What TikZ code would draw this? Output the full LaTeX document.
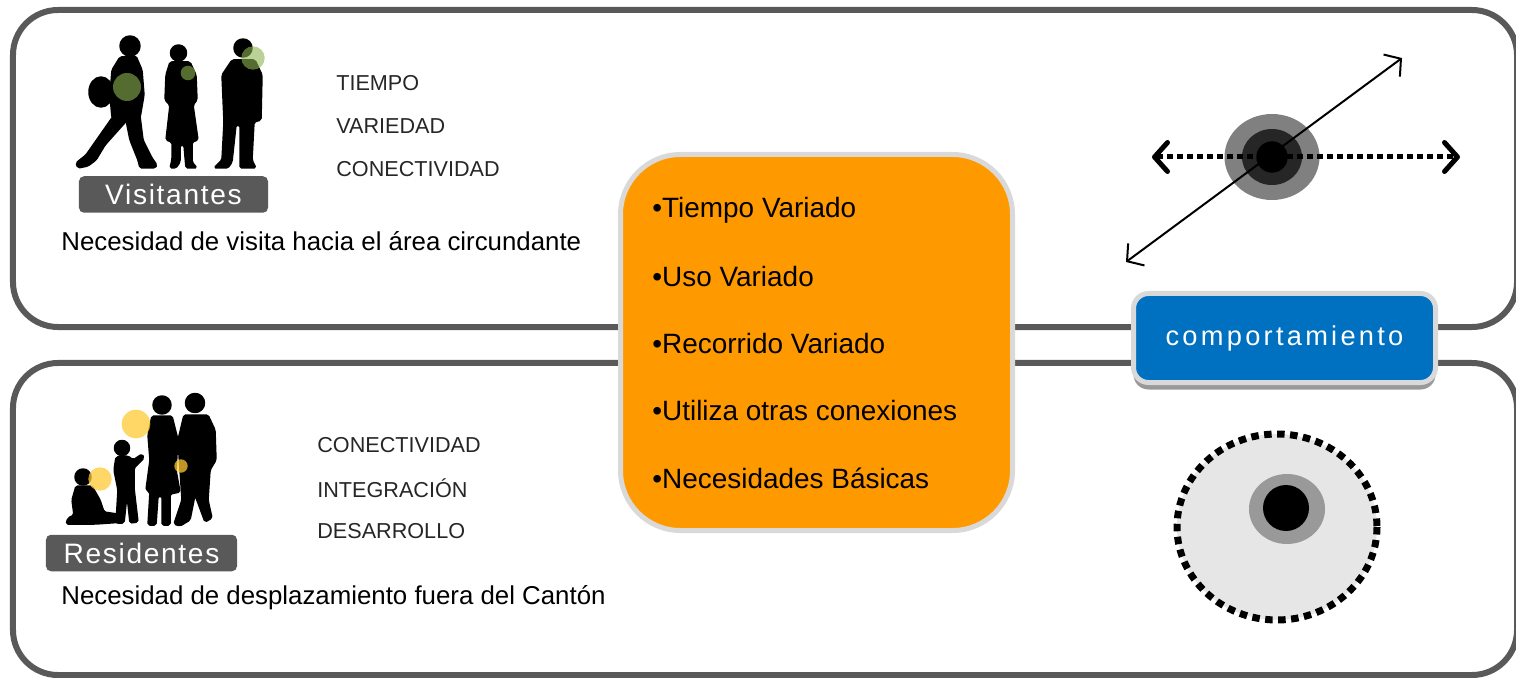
\documentclass[tikz,border=0pt]{standalone}
\usepackage{fontspec}
\setmainfont{Liberation Sans}
\usepackage{tikz}
\usetikzlibrary{arrows.meta,positioning,shadows}
\definecolor{cpFrame}{HTML}{595959}
\definecolor{cpOrange}{HTML}{FF9900}
\definecolor{cpRim}{HTML}{D9D9D9}
\definecolor{cpBlue}{HTML}{0070C0}
\definecolor{cpLeaf}{HTML}{8DB450}
\definecolor{cpSun}{HTML}{FFC934}
\definecolor{cpHalo}{HTML}{808080}
\definecolor{cpCore}{HTML}{262626}
\definecolor{cpMist}{HTML}{E6E6E6}
\definecolor{cpRing}{HTML}{999999}
\tikzset{
  panel/.style={rectangle, draw=cpFrame, line width=1.2mm, rounded corners=9mm,
                minimum width=300.8mm, inner sep=0pt},
  tag/.style={rectangle, fill=cpFrame, rounded corners=1mm, text=white, inner sep=0pt,
              minimum height=7.3mm, font=\fontsize{16}{18}\selectfont\addfontfeatures{LetterSpace=6}},
  need/.style={anchor=west, inner sep=0pt, font=\fontsize{14.7}{17}\selectfont},
  kw/.style={anchor=west, inner sep=0pt, text=black!85, font=\fontsize{12.3}{14}\selectfont},
  entry/.style={anchor=west, inner sep=0pt, font=\fontsize{15.9}{18}\selectfont},
  hub/.style={rectangle, draw=cpRim, fill=cpOrange, line width=1mm, rounded corners=12mm,
              minimum width=78.4mm, minimum height=75.2mm},
  badge/.style={rectangle, draw=cpRim, fill=cpBlue, line width=1mm, rounded corners=3mm,
                minimum width=60.4mm, minimum height=17.8mm, text=white,
                font=\fontsize{15.5}{17}\selectfont\addfontfeatures{LetterSpace=12},
                drop shadow={shadow xshift=0mm, shadow yshift=-1.4mm, opacity=0.4, fill=black}},
  person/.style={fill=black, draw=black, line width=0.3mm, line join=round, rounded corners=1pt},
  leafdot/.style={fill=cpLeaf, opacity=0.6},
  sundot/.style={fill=cpSun, opacity=0.75},
  track/.style={line width=1mm, dash pattern=on 1.1mm off 0.9mm,
                {Straight Barb[length=2.6mm, width=5.8mm, round]}-{Straight Barb[length=2.6mm, width=5.8mm, round]}},
  ray/.style={line width=0.4mm,
              {Straight Barb[length=2.3mm, width=5.5mm]}-{Straight Barb[length=2.3mm, width=5.5mm]}},
}
\begin{document}
\begin{tikzpicture}[x=0.2mm, y=-0.2mm]
  \clip (0,0) rectangle (1516,678);

  \node[panel, minimum height=63.4mm] (visit) at (765,168.5) {};
  \node[panel, minimum height=62.4mm] (resid) at (765,519) {};

  \node[hub] (hub) at (816.5,342.5) {};
  \node[entry] (e1) at (652,210) {•Tiempo Variado};
  \node[entry, below=13.4mm of e1.west, anchor=west] (e2) {•Uso Variado};
  \node[entry, below=13.4mm of e2.west, anchor=west] (e3) {•Recorrido Variado};
  \node[entry, below=13.4mm of e3.west, anchor=west] (e4) {•Utiliza otras conexiones};
  \node[entry, below=13.4mm of e4.west, anchor=west] (e5) {•Necesidades Básicas};

  \node[badge] (badge) at (1284.5,338) {comportamiento};

  % visitors
  \fill[person] (130,46) circle (10);
  \fill[person] (101,92) ellipse (12 and 15);
  \fill[person] (120,57) -- (136,56) -- (142,70) -- (144,95) -- (140,118) -- (112,118) -- (110,95) -- (112,70) -- cycle;
  \fill[person] (114,115) -- (130,117) -- (105,145) -- (96,160) -- (88,166) -- (78,168) -- (76,163) -- (86,155) -- (100,135) -- cycle;
  \fill[person] (125,115) -- (140,116) -- (143,140) -- (152,158) -- (157,165) -- (155,168) -- (140,168) -- (138,160) -- (130,140) -- cycle;
  \fill[person] (178.5,53) circle (8);
  \fill[person] (170,62) -- (190,62) -- (196,75) -- (197,100) -- (193,105) -- (198,140) -- (192,142) -- (192,162) -- (197,168)
    -- (186,168) -- (184,145) -- (180,145) -- (180,162) -- (176,168) -- (170,168) -- (172,160) -- (172,142) -- (166,140)
    -- (170,105) -- (165,100) -- (166,75) -- cycle;
  \fill[person] (243,48) circle (9);
  \fill[person] (232,60) -- (255,60) -- (262,75) -- (261,120) -- (254,122) -- (252,160) -- (256,168) -- (240,168) -- (240,125)
    -- (236,125) -- (232,162) -- (228,168) -- (214,168) -- (222,160) -- (224,122) -- (222,75) -- cycle;
  \fill[leafdot] (127,87) circle (14);
  \fill[leafdot] (188,73) circle (7.3);
  \fill[leafdot] (253,58) circle (11.7);

  % residents
  \fill[person] (83,477) circle (8);
  \fill[person] (76,486) -- (92,486) -- (100,500) -- (104,512) -- (124,515) -- (124,522) -- (96,524) -- (66,524) -- (68,518)
    -- (74,515) -- (72,500) -- cycle;
  \fill[person] (122,448) circle (7.5);
  \fill[person] (116,457) -- (128,456) -- (133,460) -- (142,454) -- (144,458) -- (134,468) -- (134,488) -- (138,522) -- (130,523)
    -- (127,495) -- (124,523) -- (116,523) -- (118,490) -- (114,470) -- cycle;
  \fill[person] (162,405) circle (9);
  \fill[person] (152,416) -- (172,416) -- (178,440) -- (176,470) -- (180,492) -- (170,494) -- (170,525) -- (162,525) -- (162,496)
    -- (158,496) -- (156,525) -- (148,525) -- (150,492) -- (146,490) -- (150,460) -- (148,435) -- cycle;
  \fill[person] (195,403) circle (9.5);
  \fill[person] (184,415) -- (208,415) -- (215,430) -- (216,460) -- (210,470) -- (208,500) -- (212,518) -- (205,522) -- (195,495)
    -- (190,520) -- (180,526) -- (174,524) -- (182,500) -- (180,470) -- (178,440) -- cycle;
  \fill[sundot] (136,424) circle (14.3);
  \fill[sundot] (100,479) circle (11.7);
  \fill[sundot] (181,466) circle (6.7);

  \node[tag, minimum width=37.8mm] (vtag) at (173.5,194.5) {Visitantes};
  \node[tag, minimum width=38.2mm] (rtag) at (141.5,553) {Residentes};
  \node[need] (vneed) at (61,241) {Necesidad de visita hacia el área circundante};
  \node[need] (rneed) at (61,598) {Necesidad de desplazamiento fuera del Cantón};

  \node[kw] (k1) at (336,83) {TIEMPO};
  \node[kw, below=8.6mm of k1.west, anchor=west] (k2) {VARIEDAD};
  \node[kw, below=8.6mm of k2.west, anchor=west] (k3) {CONECTIVIDAD};
  \node[kw] (k4) at (317,445) {CONECTIVIDAD};
  \node[kw, below=8.6mm of k4.west, anchor=west] (k5) {INTEGRACIÓN};
  \node[kw, below=8.6mm of k5.west, anchor=west] (k6) {DESARROLLO};

  % flow marker
  \coordinate (eye) at (1272,157);
  \fill[cpHalo] (eye) ellipse (47.5 and 43);
  \fill[cpCore] (eye) ellipse (30 and 28);
  \fill[black] (eye) circle (15.7);
  \coordinate (dl) at (1152,157);
  \coordinate (dr) at (1460,157);
  \draw[track] (dl) -- (dr);
  \coordinate (sw) at (1126,262);
  \coordinate (ne) at (1402,58);
  \draw[ray] (sw) -- (ne);

  % settled marker
  \coordinate (zone) at (1277,527);
  \filldraw[fill=cpMist, draw=black, line width=1.4mm, dash pattern=on 1.5mm off 1.1mm] (zone) ellipse (100 and 93);
  \fill[cpRing] (1287,509) ellipse (38 and 35);
  \fill[black] (1286,508) circle (23);
\end{tikzpicture}
\end{document}
